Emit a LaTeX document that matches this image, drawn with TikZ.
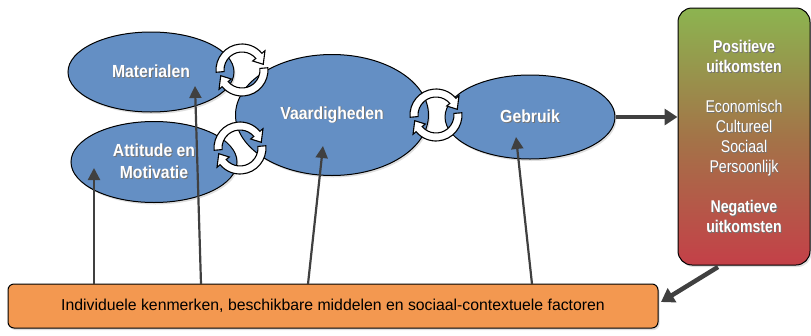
\documentclass[tikz,border=0pt]{standalone}
\usepackage{fontspec}
\setmainfont{Liberation Sans}[FakeStretch=0.9]
\newfontfamily\narrowf{Liberation Sans}[FakeStretch=0.83]
\newfontfamily\plainf{Liberation Sans}
\usetikzlibrary{shapes.geometric,arrows.meta,shadows,calc}
\definecolor{ellblue}{RGB}{100,143,196}
\definecolor{arrgray}{RGB}{64,64,64}
\definecolor{boxorange}{RGB}{243,152,80}
\definecolor{topgreen}{RGB}{140,180,80}
\definecolor{midbrown}{RGB}{163,116,72}
\definecolor{botred}{RGB}{196,64,72}
\newcommand\stxt[1]{\leavevmode\rlap{\hspace{0.9pt}\raisebox{-0.9pt}{\textcolor{black!55}{#1}}}#1}
\begin{document}
\begin{tikzpicture}[x=1pt,y=1pt,
  ell/.style={ellipse, draw=black, line width=1pt, fill=ellblue, inner sep=0pt,
    text=white, font=\fontsize{17.5}{22}\selectfont\bfseries, align=center,
    drop shadow={shadow xshift=1.5pt, shadow yshift=-2pt, opacity=.25}},
  uparr/.style={draw=arrgray, line width=2.2pt, -{Triangle[length=12pt,width=12pt]}},
  bigarr/.style={draw=arrgray, line width=4.5pt, -{Triangle[length=13pt,width=16pt]}},
  cyc/.pic={
    \foreach \t/\b/\p in {185/40/15, 5/-140/-165}{
      \draw[fill=white, line width=1.1pt, line join=miter]
        (\t:26) arc[start angle=\t, end angle=\b, radius=26]
        -- (\b:30) -- (\p:22) -- (\b:14) -- (\b:18)
        arc[start angle=\b, end angle=\t, radius=18] -- cycle;
    }
  }
]
\useasboundingbox (0,0) rectangle (811,-335);

% ellipses
\node[ell, minimum width=166pt, minimum height=80pt] (mat) at (151,-72) {\stxt{Materialen}};
\node[ell, minimum width=166pt, minimum height=81pt] (att) at (154,-162) {\stxt{Attitude en}\\\stxt{Motivatie}};
\node[ell, minimum width=193pt, minimum height=121pt] (vaa) at (332,-115) {\stxt{Vaardigheden}};
\node[ell, minimum width=170pt, minimum height=84pt] (geb) at (530,-117) {\stxt{Gebruik}};

% outcome box
\node[draw=black, line width=1pt, rounded corners=14pt,
  minimum width=132pt, minimum height=257pt,
  top color=topgreen, bottom color=botred, middle color=midbrown,
  text=white, font=\narrowf\fontsize{17}{20}\selectfont, align=center,
  drop shadow={shadow xshift=1.5pt, shadow yshift=-2pt, opacity=.25}] (out) at (744,-136.5)
  {{\bfseries\stxt{Positieve}}\\{\bfseries\stxt{uitkomsten}}\\[20pt]
   \stxt{Economisch}\\\stxt{Cultureel}\\\stxt{Sociaal}\\\stxt{Persoonlijk}\\[20pt]
   {\bfseries\stxt{Negatieve}}\\{\bfseries\stxt{uitkomsten}}};

% bottom box
\node[draw=black, line width=1pt, rounded corners=6pt, fill=boxorange,
  minimum width=650pt, minimum height=44pt, font=\plainf\fontsize{15.8}{19}\selectfont,
  drop shadow={shadow xshift=1.5pt, shadow yshift=-2pt, opacity=.25}] (bot) at (333,-306)
  {Individuele kenmerken, beschikbare middelen en sociaal-contextuele factoren};

% arrows up
\coordinate (s1) at (94,-284);  \coordinate (t1) at (94,-168);
\coordinate (s2) at (201,-284); \coordinate (t2) at (195,-86);
\coordinate (s3) at (308,-284); \coordinate (t3) at (323,-146);
\coordinate (s4) at (532,-284); \coordinate (t4) at (516,-137);
\draw[uparr] (s1) -- (t1);
\draw[uparr] (s2) -- (t2);
\draw[uparr] (s3) -- (t3);
\draw[uparr] (s4) -- (t4);

% big arrows
\draw[bigarr] (geb.east) -- (geb.east -| out.west);
\coordinate (s6) at (718,-267); \coordinate (t6) at (661,-302);
\draw[bigarr] (s6) -- (t6);

% cycle icons
\pic at (242,-70) {cyc};
\pic at (240,-148) {cyc};
\pic at (436,-115) {cyc};
\end{tikzpicture}
\end{document}
